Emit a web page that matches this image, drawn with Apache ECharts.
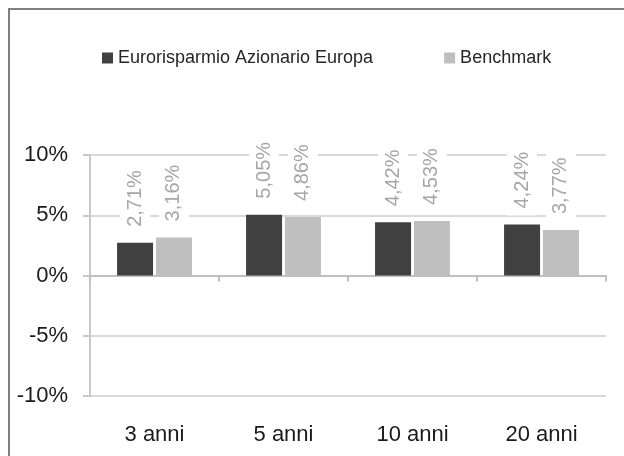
<!DOCTYPE html>
<html>
<head>
<meta charset="utf-8">
<script src="https://cdn.jsdelivr.net/npm/echarts@6/dist/echarts.min.js"></script>
<style>
html,body{margin:0;padding:0;background:#fff;}
#c{width:624px;height:456px;}
</style>
</head>
<body>
<div id="c"></div>
<script>
const categories = ['3 anni', '5 anni', '10 anni', '20 anni'];
const seriesNames = ['Eurorisparmio Azionario Europa', 'Benchmark'];
const fundValues = [2.71, 5.05, 4.42, 4.24];
const benchmarkValues = [3.16, 4.86, 4.53, 3.77];
const yTicks = [-10, -5, 0, 5, 10];

const FONT = 'Liberation Sans, Arial, sans-serif';
const fmt = v => v.toFixed(2).replace('.', ',') + '%';

const labelCfg = {
  show: true,
  position: 'top',
  distance: 9,
  rotate: 90,
  align: 'left',
  verticalAlign: 'middle',
  color: '#a6a6a6',
  fontFamily: FONT,
  fontSize: 20,
  backgroundColor: '#fff',
  padding: [5, 7, 5, 7],
  formatter: p => fmt(p.value)
};

const chart = echarts.init(document.getElementById('c'), null, {renderer: 'canvas'});
chart.setOption({
  animation: false,
  textStyle: {fontFamily: FONT},
  graphic: [{
    type: 'rect',
    shape: {x: 9, y: 9, width: 800, height: 600},
    style: {fill: 'none', stroke: '#808080', lineWidth: 2},
    silent: true
  }],
  legend: {
    left: 97,
    top: 44,
    itemWidth: 11,
    itemHeight: 11,
    itemGap: 71,
    icon: 'rect',
    textStyle: {fontFamily: FONT, fontSize: 18, color: '#262626', lineHeight: 18},
    data: seriesNames
  },
  grid: {left: 90, right: 18, top: 155, bottom: 60, containLabel: false},
  xAxis: [{
    type: 'category',
    data: categories,
    position: 'bottom',
    axisLine: {show: false, onZero: false},
    axisTick: {show: false},
    axisLabel: {margin: 28, fontSize: 22, color: '#1a1a1a', fontFamily: FONT},
    splitLine: {show: false}
  }, {
    type: 'category',
    data: categories,
    position: 'top',
    axisLine: {show: true, onZero: true, lineStyle: {color: '#bfbfbf', width: 2}},
    axisTick: {show: true, inside: true, length: 6, lineStyle: {color: '#bfbfbf', width: 2}},
    axisLabel: {show: false}
  }],
  yAxis: {
    type: 'value',
    min: yTicks[0],
    max: yTicks[yTicks.length - 1],
    interval: 5,
    axisLine: {show: true, lineStyle: {color: '#c8c8c8', width: 2}},
    axisTick: {show: true, length: 7, lineStyle: {color: '#c8c8c8', width: 2}},
    axisLabel: {margin: 22, fontSize: 22, color: '#1a1a1a', fontFamily: FONT, formatter: v => v + '%'},
    splitLine: {show: true, lineStyle: {color: '#d9d9d9', width: 2}}
  },
  series: [{
    name: seriesNames[0],
    type: 'bar',
    xAxisIndex: 0,
    data: fundValues,
    barWidth: 36,
    barGap: '8%',
    itemStyle: {color: '#404040'},
    label: labelCfg
  }, {
    name: seriesNames[1],
    type: 'bar',
    xAxisIndex: 0,
    data: benchmarkValues,
    barWidth: 36,
    barGap: '8%',
    itemStyle: {color: '#bfbfbf'},
    label: labelCfg
  }]
});
</script>
</body>
</html>
